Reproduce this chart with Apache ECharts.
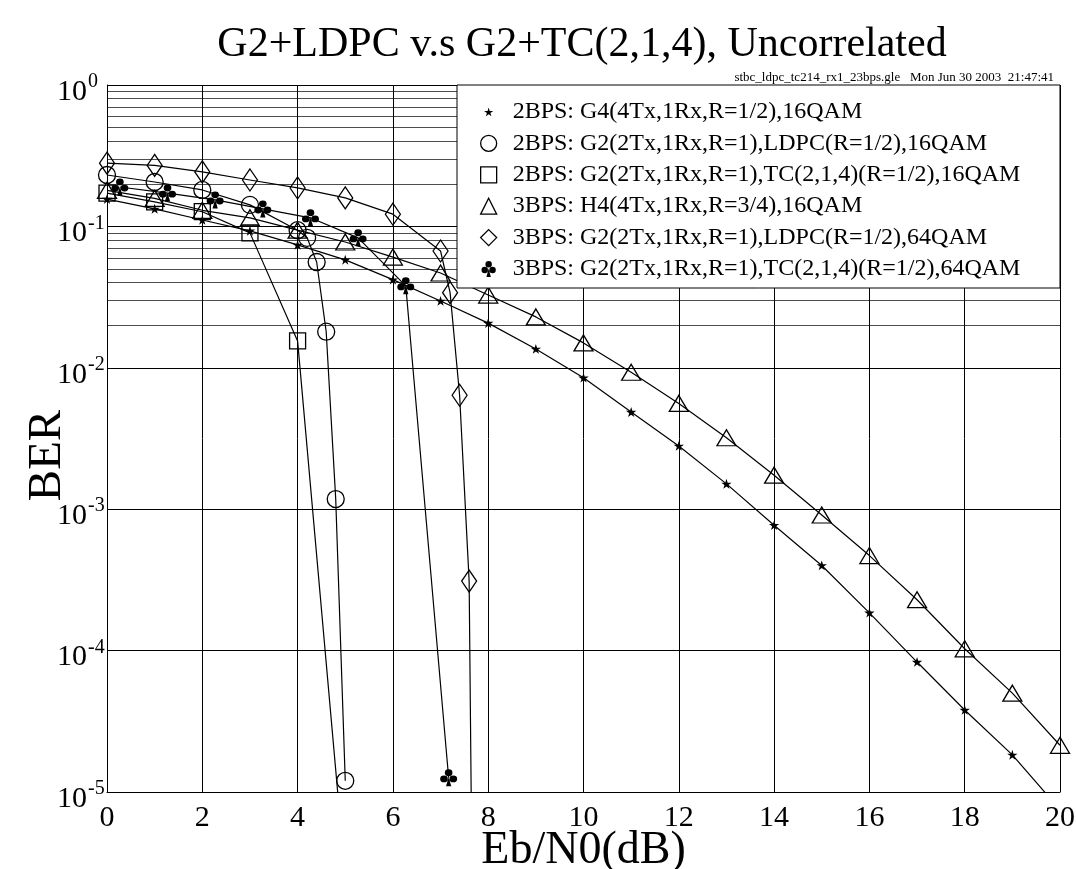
<!DOCTYPE html>
<html>
<head>
<meta charset="utf-8">
<script src="https://cdn.jsdelivr.net/npm/echarts@6/dist/echarts.min.js"></script>
<style>html,body{margin:0;padding:0;background:#fff}#c{width:1076px;height:869px}</style>
</head>
<body>
<div id="c"></div>
<script>
// ---- tick labels / axes ----
const xTicks = [0, 2, 4, 6, 8, 10, 12, 14, 16, 18, 20];
const yDecades = [1e-5, 1e-4, 1e-3, 1e-2, 1e-1, 1];
const minorMult = [2, 3, 4, 5, 6, 7, 8, 9];

// ---- series names ----
const names = [
  '2BPS: G4(4Tx,1Rx,R=1/2),16QAM',
  '2BPS: G2(2Tx,1Rx,R=1),LDPC(R=1/2),16QAM',
  '2BPS: G2(2Tx,1Rx,R=1),TC(2,1,4)(R=1/2),16QAM',
  '3BPS: H4(4Tx,1Rx,R=3/4),16QAM',
  '3BPS: G2(2Tx,1Rx,R=1),LDPC(R=1/2),64QAM',
  '3BPS: G2(2Tx,1Rx,R=1),TC(2,1,4)(R=1/2),64QAM'
];

// ---- data (Eb/N0 dB, BER) ----
const g4X = [0,1,2,3,4,5,6,7,8,9,10,11,12,13,14,15,16,17,18,19,20];
const g4Y = [0.156,0.133,0.111,0.093,0.074,0.058,0.042,0.0297,0.0207,0.0136,0.0085,0.00486,0.0028,0.00151,0.00077,0.0004,0.000185,8.3e-5,3.8e-5,1.83e-5,7.5e-6];

const ldpc16X = [0,1,2,3,4,4.2,4.4,4.6,4.8,5.0];
const ldpc16Y = [0.231,0.206,0.181,0.142,0.094,0.083,0.056,0.018,0.00118,1.2e-5];

const tc16X = [0,1,2,3,4,5];
const tc16Y = [0.172,0.149,0.127,0.09,0.0155,2.5e-6];

const h4X = [0,1,2,3,4,5,6,7,8,9,10,11,12,13,14,15,16,17,18,19,20];
const h4Y = [0.18,0.158,0.13,0.115,0.094,0.0776,0.0607,0.0468,0.0327,0.0229,0.015,0.0093,0.0056,0.0032,0.00174,0.00091,0.00047,0.000229,0.000103,5.0e-5,2.14e-5];

const ldpc64X = [0,1,2,3,4,5,6,7,7.2,7.4,7.6,7.7];
const ldpc64Y = [0.28,0.27,0.243,0.213,0.187,0.159,0.122,0.067,0.034,0.0064,0.00031,1e-7];

const tc64X = [0.27,1.27,2.27,3.27,4.27,5.27,6.27,7.17];
const tc64Y = [0.19,0.172,0.154,0.133,0.115,0.083,0.038,1.26e-5];

// ---- symbols ----
const starPath = 'path://M0,0L0.3,0L0,0.3Z M100,100L99.7,100L100,99.7Z M50,22L56.6,43L78.8,43L60.8,56.2L67.4,76.6L50,64L32.6,76.6L39.2,56.2L21.2,43L43.4,43Z';
const clubPath = 'path://M50,4A19,19 0 1,1 49.99,4Z M27,38A19,19 0 1,1 26.99,38Z M73,38A19,19 0 1,1 72.99,38Z M50,48L63,98L37,98Z';

const serif = 'Liberation Serif';
const pair = (xs, ys) => xs.map((x, i) => [x, ys[i]]);

const hollow = { color: 'transparent', borderColor: '#000', borderWidth: 1.3 };
const filled = { color: '#000', borderColor: '#000', borderWidth: 0 };

const specs = [
  { x: g4X, y: g4Y, symbol: starPath, size: 18, style: filled },
  { x: ldpc16X, y: ldpc16Y, symbol: 'circle', size: 17, style: hollow },
  { x: tc16X, y: tc16Y, symbol: 'rect', size: 16, style: hollow },
  { x: h4X, y: h4Y, symbol: 'triangle', size: [19, 16], style: hollow },
  { x: ldpc64X, y: ldpc64Y, symbol: 'diamond', size: [15, 22], style: hollow },
  { x: tc64X, y: tc64Y, symbol: clubPath, size: 17, style: filled }
];

const minorVals = [];
yDecades.slice(0, -1).forEach(d => minorMult.forEach(m => minorVals.push(m * d)));

const series = specs.map((s, i) => ({
  name: names[i],
  type: 'line',
  data: pair(s.x, s.y),
  symbol: s.symbol,
  symbolSize: s.size,
  showAllSymbol: true,
  clip: true,
  itemStyle: s.style,
  lineStyle: { color: '#000', width: 1.2 },
  emphasis: { disabled: true },
  z: 2
}));

series.unshift({
  type: 'line',
  data: [],
  silent: true,
  z: 1,
  markLine: {
    silent: true,
    z: 1,
    symbol: 'none',
    animation: false,
    label: { show: false },
    lineStyle: { color: '#000', width: 0.7, type: 'solid' },
    emphasis: { disabled: true },
    data: minorVals.map(v => ({ yAxis: v }))
  }
});

const chart = echarts.init(document.getElementById('c'));
chart.setOption({
  animation: false,
  backgroundColor: '#fff',
  title: [
    {
      text: 'G2+LDPC v.s G2+TC(2,1,4), Uncorrelated',
      left: 577, top: 19, textAlign: 'center',
      textStyle: { fontFamily: serif, fontWeight: 'normal', fontSize: 42, color: '#000' }
    },
    {
      text: 'stbc_ldpc_tc214_rx1_23bps.gle   Mon Jun 30 2003  21:47:41',
      right: 17, top: 66,
      textStyle: { fontFamily: serif, fontWeight: 'normal', fontSize: 13, color: '#000' }
    }
  ],
  grid: { left: 107, right: 16, top: 85, bottom: 77, containLabel: false, outerBoundsMode: 'none' },
  xAxis: {
    type: 'value', min: 0, max: 20, interval: 2,
    name: 'Eb/N0(dB)', nameLocation: 'middle', nameGap: 36, nameMoveOverlap: false,
    nameTextStyle: { fontFamily: serif, fontSize: 46, color: '#000' },
    axisLine: { show: true, lineStyle: { color: '#000', width: 1 } },
    axisTick: { show: false },
    axisLabel: { fontFamily: serif, fontSize: 30, color: '#000', margin: 11,
      formatter: v => String(v) },
    splitLine: { show: true, lineStyle: { color: '#000', width: 1 } }
  },
  yAxis: {
    type: 'log', logBase: 10, min: 1e-5, max: 1,
    name: 'BER', nameLocation: 'middle', nameGap: 36, nameRotate: 90, nameMoveOverlap: false,
    nameTextStyle: { fontFamily: serif, fontSize: 47, color: '#000', padding: [0, 34, 0, 0] },
    axisLine: { show: true, onZero: false, lineStyle: { color: '#000', width: 1 } },
    axisTick: { show: false },
    axisLabel: {
      margin: 50,
      align: 'left',
      padding: [14, 0, 0, 0],
      formatter: v => '{b|10}{s|' + Math.round(Math.log10(v)) + '}',
      rich: {
        b: { fontFamily: serif, fontSize: 30, color: '#000' },
        s: { fontFamily: serif, fontSize: 20, color: '#000', padding: [0, 0, 20, 1] }
      }
    },
    splitLine: { show: true, lineStyle: { color: '#000', width: 1 } }
  },
  legend: {
    orient: 'vertical',
    left: 480, top: 100,
    padding: 0,
    itemWidth: 16, itemHeight: 16,
    itemGap: 7.4,
    selectedMode: false,
    z: 5,
    textStyle: { fontFamily: serif, fontSize: 24, color: '#000', padding: [0, 0, 0, 11] },
    data: names.map((n, i) => ({
      name: n,
      icon: specs[i].symbol,
      itemStyle: specs[i].style
    }))
  },
  graphic: [
    {
      type: 'rect', z: 4,
      shape: { x: 457, y: 85, width: 603, height: 203 },
      style: { fill: '#fff', stroke: '#000', lineWidth: 1 }
    }
  ],
  series: series
});
</script>
</body>
</html>
